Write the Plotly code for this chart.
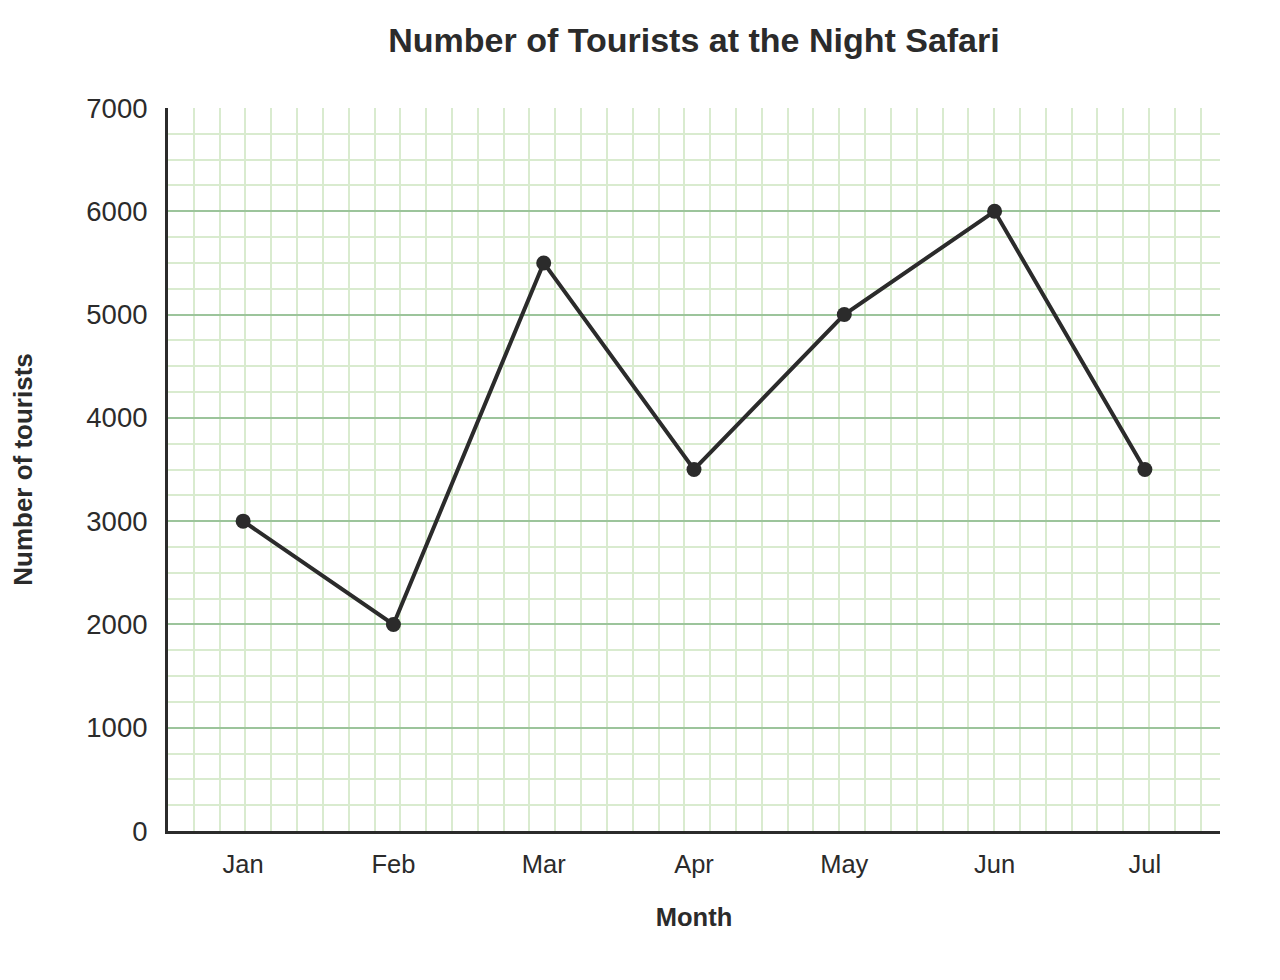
import plotly.graph_objects as go

# data
months = ['Jan', 'Feb', 'Mar', 'Apr', 'May', 'Jun', 'Jul']
tourists = [3000, 2000, 5500, 3500, 5000, 6000, 3500]
y_ticks = [0, 1000, 2000, 3000, 4000, 5000, 6000, 7000]

ink = '#2b2b2b'
major_grid = '#9cc49b'
minor_grid = '#d9ebcf'
font = 'Liberation Sans, Arial, sans-serif'

x_pos = list(range(len(months)))

fig = go.Figure()
fig.add_trace(go.Scatter(
    x=x_pos, y=tourists, mode='lines+markers',
    line=dict(color=ink, width=4),
    marker=dict(color=ink, size=15),
    showlegend=False, hoverinfo='skip'))

fig.update_layout(
    width=1280, height=980,
    margin=dict(l=160, r=68, t=100, b=157),
    paper_bgcolor='white', plot_bgcolor='white',
    font=dict(family=font, color=ink),
    title=dict(text='Number of Tourists at the Night Safari',
               x=0.5, xref='paper', xanchor='center',
               y=0.967, yanchor='middle',
               font=dict(size=34, weight='bold', color=ink)),
)

fig.update_xaxes(
    range=[-0.5, 6.5], tickvals=x_pos, ticktext=months,
    automargin=False,
    showgrid=False, zeroline=False,
    showline=True, linecolor=ink, linewidth=3,
    ticks='outside', ticklen=8, tickcolor='rgba(0,0,0,0)',
    tickfont=dict(size=25.5, color=ink),
    minor=dict(tick0=-0.5, dtick=0.1718, showgrid=True,
               gridcolor=minor_grid, gridwidth=2, ticks=''),
    title=dict(text='Month', standoff=32,
               font=dict(size=25.5, weight='bold', color=ink)),
)

fig.update_yaxes(
    range=[0, 7000], tickvals=y_ticks,
    automargin=False,
    showgrid=True, gridcolor=major_grid, gridwidth=2,
    zeroline=False,
    showline=True, linecolor=ink, linewidth=3,
    ticks='outside', ticklen=12, tickcolor='rgba(0,0,0,0)',
    tickfont=dict(size=27.5, color=ink),
    minor=dict(dtick=250, showgrid=True, gridcolor=minor_grid,
               gridwidth=2, ticks=''),
    title=dict(text='Number of tourists', standoff=49,
               font=dict(size=26, weight='bold', color=ink)),
)

fig.write_html('out.html')
